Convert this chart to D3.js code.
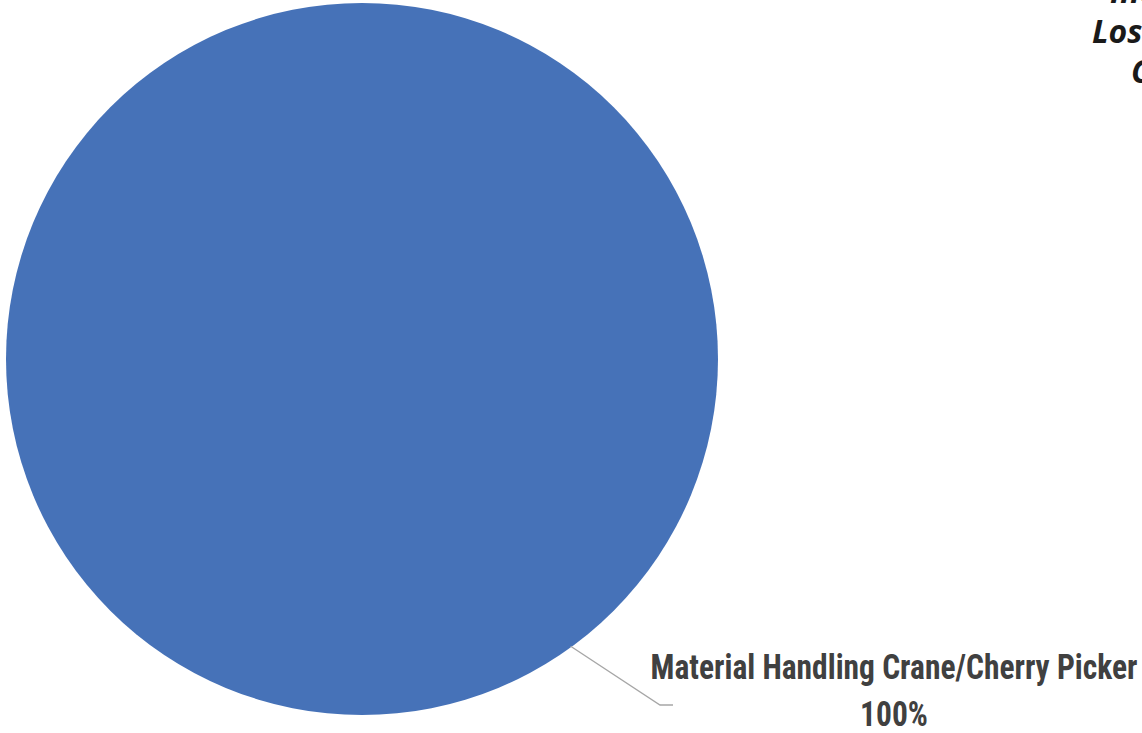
<!DOCTYPE html>
<html><head><meta charset="utf-8">
<script src="https://cdn.jsdelivr.net/npm/d3@7"></script>
<style>
html,body{margin:0;padding:0;background:#fff;overflow:hidden}
</style></head>
<body>
<script>
const categories = ["Material Handling Crane/Cherry Picker"];
const values = [100];
const titleLines = ["Incidents Resulting in", "Lost Time by Equipment", "Category"];

const W = 1142, H = 733;
const svg = d3.select("body").append("svg").attr("width", W).attr("height", H);

const cx = 362, cy = 359, r = 356;
const pie = d3.pie().sort(null)(values);
const arc = d3.arc().innerRadius(0).outerRadius(r);
const color = d3.scaleOrdinal().domain(categories).range(["#4672B8"]);

const g = svg.append("g").attr("transform", `translate(${cx},${cy})`);
g.selectAll("path").data(pie).join("path")
  .attr("d", arc).attr("fill", (d,i) => color(categories[i]));

const total = d3.sum(values);
const fmt = d3.format(".0%");
const leaderAngle = 144 * Math.PI / 180;
const p0 = d3.pointRadial(leaderAngle, r - 1);
const elbow = [660 - cx, 705 - cy];
const end = [673 - cx, 705 - cy];
g.append("polyline")
  .attr("points", [p0, elbow, end].map(p => p.join(",")).join(" "))
  .attr("fill", "none").attr("stroke", "#a6a6a6").attr("stroke-width", 1.3);

const lab = svg.append("text")
  .attr("text-anchor", "middle")
  .attr("transform", "translate(894,0) scale(1,1.12)")
  .attr("font-family", "'Liberation Sans Narrow', 'Roboto Condensed', 'DejaVu Sans Condensed', sans-serif")
  .attr("font-weight", "bold").attr("font-size", 31.5).attr("fill", "#404040");
lab.append("tspan").attr("x", 0).attr("y", 679 / 1.12).text(categories[0]);
lab.append("tspan").attr("x", 0).attr("y", 726 / 1.12).text(fmt(values[0] / total));

const title = svg.append("text")
  .attr("text-anchor", "middle")
  .attr("font-family", "'Open Sans', sans-serif")
  .attr("font-style", "italic").attr("font-weight", 700)
  .attr("font-size", 32).attr("fill", "#1a1a1a");
const tsp = titleLines.map((t, i) =>
  title.append("tspan").attr("y", 3 + i * 40).text(t));
// place the centred title lines so their left edges sit where the reference shows them
const w2 = tsp[1].node().getComputedTextLength();
const w3 = tsp[2].node().getComputedTextLength();
tsp[0].attr("x", 1092 + w2 / 2);
tsp[1].attr("x", 1092 + w2 / 2);
tsp[2].attr("x", 1131 + w3 / 2);
</script>
</body></html>
